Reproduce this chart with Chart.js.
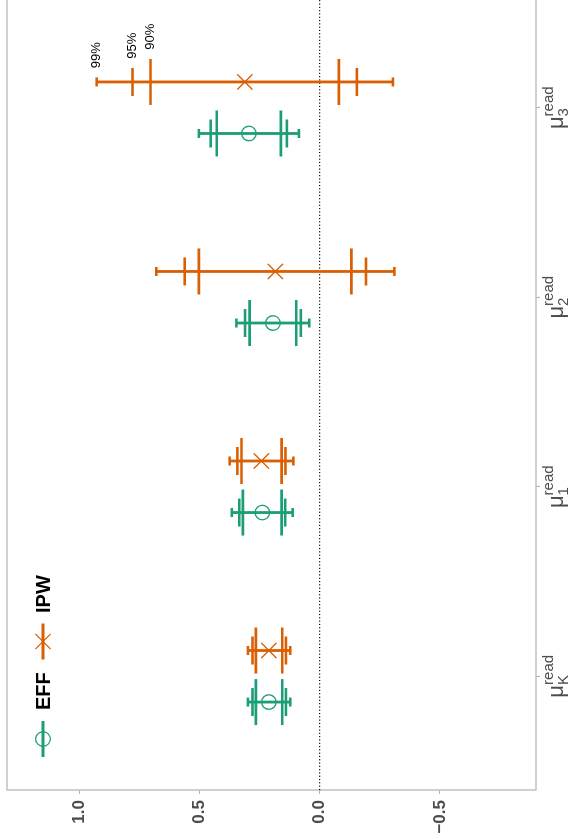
<!DOCTYPE html>
<html>
<head>
<meta charset="utf-8">
<script src="https://cdn.jsdelivr.net/npm/chart.js@4"></script>
<style>
  html, body { margin:0; padding:0; background:#fff; width:578px; height:839px; overflow:hidden; }
  #wrap { position:absolute; left:0; top:0; width:846px; height:578px;
          transform-origin:0 0; transform: translate(0px, 839px) rotate(-90deg); }
  canvas { display:block; }
</style>
</head>
<body>
<div id="wrap"><canvas id="c" width="846" height="578"></canvas></div>
<script>
// ---- data ----
const categorySubscripts = ['K', '1', '2', '3'];
const categorySuperscript = 'read';
const seriesNames = ['EFF', 'IPW'];
const effEst  = [0.211, 0.238, 0.194, 0.294];
const effLo90 = [0.155, 0.158, 0.097, 0.161];
const effHi90 = [0.265, 0.319, 0.291, 0.428];
const effLo95 = [0.140, 0.143, 0.078, 0.136];
const effHi95 = [0.279, 0.334, 0.310, 0.453];
const effLo99 = [0.122, 0.112, 0.043, 0.086];
const effHi99 = [0.298, 0.365, 0.346, 0.502];
const ipwEst  = [0.211, 0.242, 0.184, 0.311];
const ipwLo90 = [0.155, 0.158, -0.132, -0.080];
const ipwHi90 = [0.265, 0.325, 0.502, 0.703];
const ipwLo95 = [0.140, 0.142, -0.193, -0.155];
const ipwHi95 = [0.279, 0.342, 0.561, 0.778];
const ipwLo99 = [0.122, 0.109, -0.311, -0.305];
const ipwHi99 = [0.298, 0.374, 0.679, 0.927];
const valueTicks = [-0.5, 0.0, 0.5, 1.0];
const valueLimits = [-0.9, 1.3];
const levelLabels = ['99%', '95%', '90%'];

// ---- style ----
const GREEN = '#1B9E77', ORANGE = '#D95F02';
const FONT = '"Liberation Sans", Arial, sans-serif';
const DODGE = 0.136;
const capHalf = {'99%': 4.5, '95%': 14, '90%': 23};

const series = [
  { name: seriesNames[0], color: GREEN, off: -DODGE, est: effEst,
    levels: {'99%': [effLo99, effHi99], '95%': [effLo95, effHi95], '90%': [effLo90, effHi90]} },
  { name: seriesNames[1], color: ORANGE, off: DODGE, est: ipwEst,
    levels: {'99%': [ipwLo99, ipwHi99], '95%': [ipwLo95, ipwHi95], '90%': [ipwLo90, ipwHi90]} }
];

const intervalPlugin = {
  id: 'intervals',
  beforeDatasetsDraw(chart) {
    const ctx = chart.ctx, a = chart.chartArea;
    const xs = chart.scales.x, ys = chart.scales.y;
    ctx.save();
    ctx.strokeStyle = '#bdbdbd'; ctx.lineWidth = 1.4;
    ctx.strokeRect(a.left, a.top, a.right - a.left, a.bottom - a.top);
    const y0 = ys.getPixelForValue(0);
    ctx.strokeStyle = '#000'; ctx.lineWidth = 1.1; ctx.setLineDash([1.1, 2.2]);
    ctx.beginPath(); ctx.moveTo(a.left, y0); ctx.lineTo(a.right, y0); ctx.stroke();
    ctx.setLineDash([]);
    series.forEach(s => {
      ctx.strokeStyle = s.color;
      s.est.forEach((_, i) => {
        const x = xs.getPixelForValue(i + 1 + s.off);
        const [lo99, hi99] = s.levels['99%'];
        ctx.lineWidth = 2.8; ctx.lineCap = 'butt';
        ctx.beginPath();
        ctx.moveTo(x, ys.getPixelForValue(lo99[i]));
        ctx.lineTo(x, ys.getPixelForValue(hi99[i]));
        ctx.stroke();
        levelLabels.forEach(lv => {
          const [lo, hi] = s.levels[lv];
          const h = capHalf[lv];
          ctx.lineWidth = 2.6;
          [lo[i], hi[i]].forEach(v => {
            const y = ys.getPixelForValue(v);
            ctx.beginPath(); ctx.moveTo(x - h, y); ctx.lineTo(x + h, y); ctx.stroke();
          });
        });
      });
    });
    ctx.restore();
  },
  afterDraw(chart) {
    const ctx = chart.ctx, a = chart.chartArea;
    const xs = chart.scales.x, ys = chart.scales.y;
    ctx.save();
    const s = series[1], last = s.est.length - 1;
    const xl = xs.getPixelForValue(last + 1 + s.off);
    ctx.font = '13px ' + FONT; ctx.fillStyle = '#000';
    ctx.textAlign = 'left'; ctx.textBaseline = 'middle';
    levelLabels.forEach(lv => {
      const hi = s.levels[lv][1][last];
      ctx.fillText(lv, xl + capHalf[lv] + 9.3, ys.getPixelForValue(hi));
    });
    ctx.fillStyle = '#4d4d4d'; ctx.textBaseline = 'alphabetic';
    categorySubscripts.forEach((sub, i) => {
      const cx = xs.getPixelForValue(i + 1);
      ctx.font = '22px ' + FONT; const wm = ctx.measureText('\u03bc').width;
      ctx.font = '15px ' + FONT;
      const wsup = ctx.measureText(categorySuperscript).width;
      const wsub = ctx.measureText(sub).width;
      const total = wm + Math.max(wsup, wsub);
      const x0 = cx - total / 2;
      ctx.textAlign = 'left';
      ctx.font = '22px ' + FONT; ctx.fillText('\u03bc', x0, a.bottom + 27);
      ctx.font = '15px ' + FONT;
      ctx.fillText(categorySuperscript, x0 + wm, a.bottom + 17);
      ctx.fillText(sub, x0 + wm, a.bottom + 32);
    });
    const legendY = 43;
    const keys = [{u: 100, text: 129}, {u: 197.5, text: 226}];
    series.forEach((sr, k) => {
      const c = keys[k].u;
      ctx.strokeStyle = sr.color; ctx.lineWidth = 2.8;
      ctx.beginPath(); ctx.moveTo(c - 18, legendY); ctx.lineTo(c + 18, legendY); ctx.stroke();
      ctx.lineWidth = 1.3;
      if (k === 0) {
        ctx.beginPath(); ctx.arc(c, legendY, 7.3, 0, Math.PI * 2); ctx.stroke();
      } else {
        ctx.beginPath();
        ctx.moveTo(c - 7.6, legendY - 7.6); ctx.lineTo(c + 7.6, legendY + 7.6);
        ctx.moveTo(c - 7.6, legendY + 7.6); ctx.lineTo(c + 7.6, legendY - 7.6);
        ctx.stroke();
      }
      ctx.fillStyle = '#000'; ctx.font = 'bold 20px ' + FONT;
      ctx.textAlign = 'left'; ctx.textBaseline = 'middle';
      ctx.fillText(sr.name, keys[k].text, legendY + 1);
    });
    ctx.restore();
  }
};

function zeroPad(s) { s.paddingLeft = 0; s.paddingRight = 0; s.paddingTop = 0; s.paddingBottom = 0; }

new Chart(document.getElementById('c'), {
  type: 'scatter',
  data: {
    datasets: [
      { label: seriesNames[0], data: effEst.map((v, i) => ({x: i + 1 - DODGE, y: v})),
        pointStyle: 'circle', pointRadius: 7.3, pointHoverRadius: 7.3,
        borderColor: GREEN, backgroundColor: 'rgba(0,0,0,0)', borderWidth: 1.3 },
      { label: seriesNames[1], data: ipwEst.map((v, i) => ({x: i + 1 + DODGE, y: v})),
        pointStyle: 'crossRot', pointRadius: 10.8, pointHoverRadius: 10.8,
        borderColor: ORANGE, backgroundColor: ORANGE, borderWidth: 1.3 }
    ]
  },
  options: {
    responsive: false, animation: false, events: [],
    devicePixelRatio: 1,
    layout: { autoPadding: false, padding: { left: 0, top: 7, right: 1, bottom: 0 } },
    plugins: { legend: { display: false }, tooltip: { enabled: false } },
    scales: {
      x: {
        type: 'linear', min: 0.4, max: 4.6,
        afterBuildTicks: s => { s.ticks = [1, 2, 3, 4].map(v => ({value: v})); },
        ticks: { display: false },
        grid: { drawOnChartArea: false, drawTicks: true, tickLength: 4, color: '#b3b3b3', lineWidth: 1.1 },
        border: { display: false },
        afterFit: s => { s.height = 42; zeroPad(s); }
      },
      y: {
        type: 'linear', min: valueLimits[0], max: valueLimits[1],
        afterBuildTicks: s => { s.ticks = valueTicks.map(v => ({value: v})); },
        ticks: {
          font: { family: FONT, size: 17, weight: 'bold' }, color: '#4d4d4d', padding: 6,
          callback: v => (v < 0 ? '\u2212' : '') + Math.abs(v).toFixed(1)
        },
        grid: { drawOnChartArea: false, drawTicks: true, tickLength: 4, color: '#b3b3b3', lineWidth: 1.1 },
        border: { display: false },
        afterFit: s => { s.width = 49; zeroPad(s); }
      }
    }
  },
  plugins: [intervalPlugin]
});
</script>
</body>
</html>
